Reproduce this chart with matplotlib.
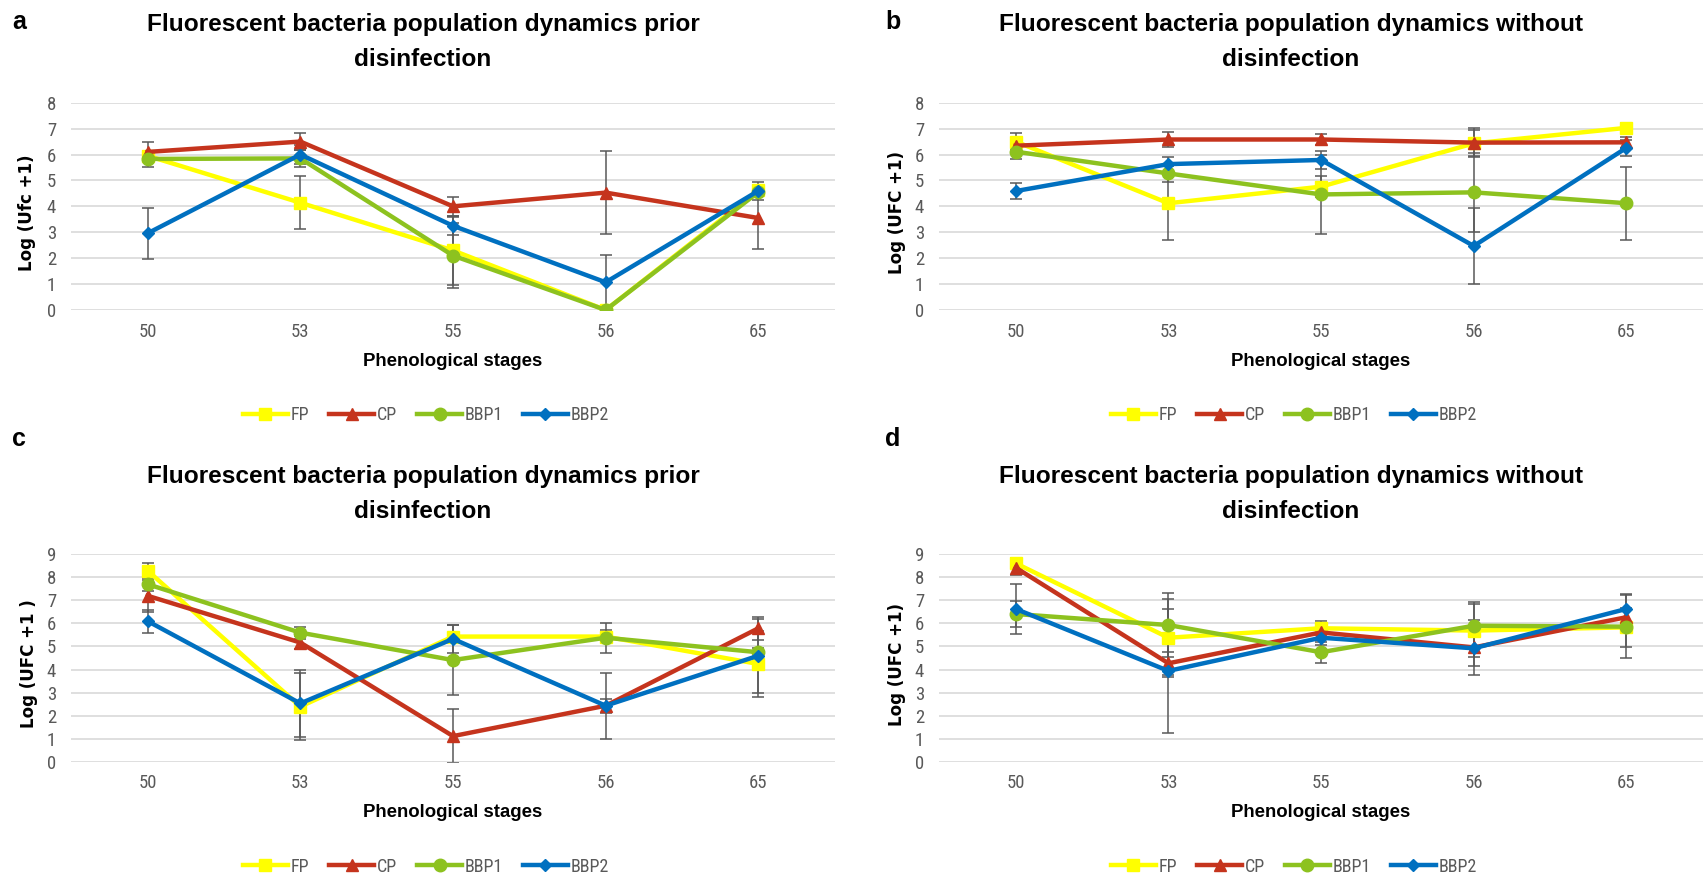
import matplotlib
matplotlib.use('Agg')
import matplotlib.pyplot as plt
from matplotlib import font_manager

# stages on the x axis and series names
stages = ['50', '53', '55', '56', '65']
series = ['FP', 'CP', 'BBP1', 'BBP2']

# a - prior disinfection, Log (Ufc +1)
a_FP = [5.95, 4.14, 2.30, 0.00, 4.62]
a_CP = [6.10, 6.50, 4.00, 4.53, 3.55]
a_BBP1 = [5.83, 5.85, 2.10, 0.00, 4.55]
a_BBP2 = [2.96, 6.00, 3.25, 1.07, 4.60]
a_FP_sd = [0.10, 1.03, 1.34, 0.00, 0.10]
a_CP_sd = [0.40, 0.34, 0.37, 1.60, 1.20]
a_BBP1_sd = [0.30, 0.33, 1.24, 0.00, 0.10]
a_BBP2_sd = [0.99, 0.35, 0.35, 1.05, 0.35]

# b - without disinfection
b_FP = [6.50, 4.12, 4.76, 6.43, 7.03]
b_CP = [6.34, 6.58, 6.58, 6.46, 6.47]
b_BBP1 = [6.11, 5.27, 4.46, 4.54, 4.12]
b_BBP2 = [4.59, 5.63, 5.79, 2.47, 6.26]
b_FP_sd = [0.34, 1.42, 0.41, 0.50, 0.20]
b_CP_sd = [0.20, 0.29, 0.20, 0.55, 0.20]
b_BBP1_sd = [0.30, 0.32, 1.53, 1.52, 1.40]
b_BBP2_sd = [0.31, 0.29, 0.34, 1.48, 0.30]

# c - prior disinfection, Log (UFC +1 )
c_FP = [8.29, 2.39, 5.43, 5.43, 4.24]
c_CP = [7.20, 5.17, 1.11, 2.43, 5.79]
c_BBP1 = [7.70, 5.60, 4.41, 5.38, 4.75]
c_BBP2 = [6.10, 2.53, 5.33, 2.43, 4.60]
c_FP_sd = [0.32, 1.45, 0.10, 0.30, 1.42]
c_CP_sd = [0.70, 0.30, 1.16, 0.30, 0.50]
c_BBP1_sd = [0.30, 0.26, 1.52, 0.65, 0.20]
c_BBP2_sd = [0.50, 1.47, 0.60, 1.43, 1.60]

# d - without disinfection
d_FP = [8.61, 5.38, 5.79, 5.69, 5.83]
d_CP = [8.42, 4.27, 5.61, 4.96, 6.27]
d_BBP1 = [6.41, 5.93, 4.75, 5.90, 5.86]
d_BBP2 = [6.63, 3.94, 5.38, 4.92, 6.63]
d_FP_sd = [0.22, 1.70, 0.30, 1.14, 0.84]
d_CP_sd = [0.32, 0.50, 0.30, 1.20, 0.30]
d_BBP1_sd = [0.57, 1.37, 0.45, 1.02, 1.37]
d_BBP2_sd = [1.07, 2.68, 0.30, 0.77, 0.65]

colors = ['#FFFF00', '#C5341D', '#8DC21F', '#0070C0']
markers = ['s', '^', 'o', 'D']
msizes = [8, 8, 9, 6.5]

names = {f.name for f in font_manager.fontManager.ttflist}
def pick(*cands):
    for c in cands:
        if c in names:
            return c
    return 'DejaVu Sans'
NARROW = pick('Liberation Sans Narrow', 'Roboto Condensed', 'Open Sans Condensed', 'Liberation Sans')
WIDE = pick('DejaVu Sans')
ARIAL = pick('Liberation Sans', 'DejaVu Sans')

W, H = 1703, 880
fig = plt.figure(figsize=(W / 100, H / 100), dpi=100)

def px(x, y):
    # pixel position -> figure fraction
    return x / W, 1 - y / H

panels = [
    dict(tag='a', left=71.3, top=102.7, bottom=310, ymax=8, cx=423, ty=25,
         title2='prior', ylab='Log (Ufc +1)', ylx=27, data=(a_FP, a_CP, a_BBP1, a_BBP2),
         err=(a_FP_sd, a_CP_sd, a_BBP1_sd, a_BBP2_sd), tagx=19, tagy=22),
    dict(tag='b', left=939.4, top=102.7, bottom=310, ymax=8, cx=1291, ty=25,
         title2='without', ylab='Log (UFC +1)', ylx=897, data=(b_FP, b_CP, b_BBP1, b_BBP2),
         err=(b_FP_sd, b_CP_sd, b_BBP1_sd, b_BBP2_sd), tagx=893, tagy=22),
    dict(tag='c', left=71.3, top=554.3, bottom=761.7, ymax=9, cx=423, ty=477,
         title2='prior', ylab='Log (UFC +1 )', ylx=29, data=(c_FP, c_CP, c_BBP1, c_BBP2),
         err=(c_FP_sd, c_CP_sd, c_BBP1_sd, c_BBP2_sd), tagx=19, tagy=439),
    dict(tag='d', left=939.4, top=554.3, bottom=761.7, ymax=9, cx=1291, ty=477,
         title2='without', ylab='Log (UFC +1)', ylx=897, data=(d_FP, d_CP, d_BBP1, d_BBP2),
         err=(d_FP_sd, d_CP_sd, d_BBP1_sd, d_BBP2_sd), tagx=893, tagy=439),
]

x = list(range(len(stages)))
for p in panels:
    width = 763.4
    l, b = px(p['left'], p['bottom'])
    ax = fig.add_axes([l, b, width / W, (p['bottom'] - p['top']) / H])
    handles = []
    for i, name in enumerate(series):
        ax.errorbar(x, p['data'][i], yerr=p['err'][i], fmt='none', ecolor='#595959',
                    elinewidth=1.1, capsize=4.5, capthick=1.1, zorder=2 + i * 0.1)
        h, = ax.plot(x, p['data'][i], color=colors[i], lw=3.2, marker=markers[i],
                     ms=msizes[i], mec=colors[i], label=name, zorder=3 + i * 0.1)
        handles.append(h)
    ax.set_xlim(-0.5, 4.5)
    ax.set_ylim(0, p['ymax'])
    ax.set_yticks(range(0, p['ymax'] + 1))
    ax.set_xticks(x)
    ax.set_xticklabels(stages)
    ax.grid(axis='y', color='#d9d9d9', lw=1.2)
    ax.set_axisbelow(True)
    for s in ax.spines.values():
        s.set_visible(False)
    ax.tick_params(length=0, colors='#595959', labelsize=13.5)
    ax.tick_params(axis='y', pad=11)
    ax.tick_params(axis='x', pad=9)
    for t in ax.get_xticklabels() + ax.get_yticklabels():
        t.set_family(NARROW)
    ax.set_facecolor('none')

    cx_axis = p['left'] + width / 2
    # titles, axis labels
    fig.text(*px(p['cx'], p['ty']), 'Fluorescent bacteria population dynamics ' + p['title2'],
             ha='center', va='center', fontsize=17.6, fontweight='bold', family=ARIAL)
    fig.text(*px(p['cx'], p['ty'] + 35), 'disinfection', ha='center', va='center',
             fontsize=17.6, fontweight='bold', family=ARIAL)
    fig.text(*px(cx_axis, p['bottom'] + 51), 'Phenological stages', ha='center', va='center',
             fontsize=13.4, fontweight='bold', family=ARIAL)
    fig.text(*px(p['ylx'], (p['top'] + p['bottom']) / 2 + 6), p['ylab'], rotation=90,
             ha='center', va='center', fontsize=12, fontweight='bold', family=WIDE)
    fig.text(*px(p['tagx'], p['tagy']), p['tag'], ha='center', va='center',
             fontsize=18, fontweight='bold', family=ARIAL)

    leg = ax.legend(handles=handles, loc='center', ncol=4, frameon=False,
                    bbox_to_anchor=px(p['cx'] + 3, p['bottom'] + 105),
                    bbox_transform=fig.transFigure, handlelength=2.5, handletextpad=0.15,
                    columnspacing=1.1, numpoints=1, prop={'family': NARROW, 'size': 13})
    for t in leg.get_texts():
        t.set_color('#595959')

fig.savefig('out.png', dpi=100)
